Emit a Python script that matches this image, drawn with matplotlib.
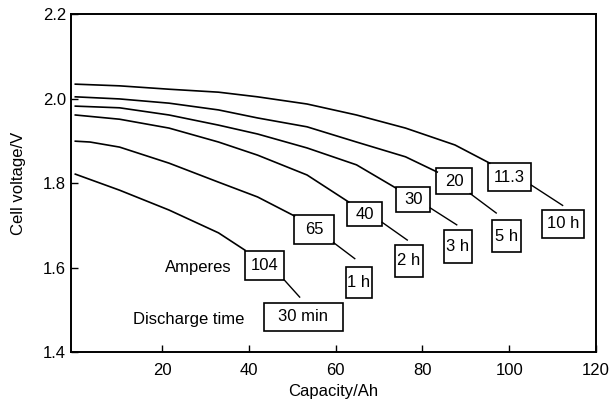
import matplotlib
matplotlib.use('Agg')
import matplotlib.pyplot as plt
from matplotlib.patches import Rectangle

plt.rcParams['font.family'] = ['Liberation Sans', 'DejaVu Sans']

# Discharge curves: capacity (Ah) vs cell voltage (V)
cap_11 = [0, 10.2, 21.6, 33.0, 42.0, 53.4, 64.8, 76.1, 87.5, 95.5]
volt_11 = [2.034, 2.030, 2.022, 2.015, 2.004, 1.987, 1.961, 1.930, 1.890, 1.847]
cap_20 = [0, 10.2, 21.6, 33.0, 42.0, 53.4, 64.8, 76.1, 83.4]
volt_20 = [2.004, 1.999, 1.989, 1.973, 1.954, 1.933, 1.897, 1.862, 1.826]
cap_30 = [0, 10.2, 21.6, 33.0, 42.0, 53.4, 64.8, 73.9]
volt_30 = [1.982, 1.978, 1.961, 1.937, 1.916, 1.883, 1.843, 1.788]
cap_40 = [0, 10.2, 21.6, 33.0, 42.0, 53.4, 63.0]
volt_40 = [1.961, 1.951, 1.930, 1.897, 1.866, 1.819, 1.755]
cap_65 = [0, 3.4, 10.2, 21.6, 33.0, 42.0, 50.5]
volt_65 = [1.899, 1.897, 1.885, 1.847, 1.802, 1.767, 1.722]
cap_104 = [0, 10.2, 21.6, 33.0, 39.1]
volt_104 = [1.821, 1.783, 1.736, 1.682, 1.641]

amperes = ['104', '65', '40', '30', '20', '11.3']
times = ['30 min', '1 h', '2 h', '3 h', '5 h', '10 h']
x_ticks = [20, 40, 60, 80, 100, 120]
y_ticks = [1.4, 1.6, 1.8, 2.0, 2.2]

# layout of the label boxes (x0, x1, y0, y1) in data units
amp_boxes = [(39.1, 48.2, 1.570, 1.639), (50.5, 59.5, 1.656, 1.724),
             (62.7, 70.7, 1.698, 1.755), (73.9, 81.8, 1.731, 1.791),
             (83.2, 91.4, 1.774, 1.835), (95.2, 105.0, 1.781, 1.847)]
time_boxes = [(43.4, 61.6, 1.450, 1.516), (62.3, 68.4, 1.528, 1.601),
              (73.6, 80.2, 1.578, 1.653), (85.0, 91.4, 1.611, 1.689),
              (96.1, 102.7, 1.637, 1.712), (107.5, 117.3, 1.670, 1.736)]
leaders = [((48.2, 1.570), (51.7, 1.530)), ((59.5, 1.659), (64.4, 1.621)),
           ((70.7, 1.707), (76.5, 1.665)), ((81.8, 1.741), (87.9, 1.701)),
           ((91.0, 1.775), (97.0, 1.729)), ((105.1, 1.795), (112.3, 1.747))]

fig = plt.figure(figsize=(6.13, 4.04), dpi=100)
ax = fig.add_axes([0.1158, 0.1287, 0.8565, 0.8366])

for c, v in [(cap_11, volt_11), (cap_20, volt_20), (cap_30, volt_30),
             (cap_40, volt_40), (cap_65, volt_65), (cap_104, volt_104)]:
    ax.plot(c, v, color='black', lw=1.2)

for (x0, x1, y0, y1), lab in zip(amp_boxes, amperes):
    ax.add_patch(Rectangle((x0, y0), x1 - x0, y1 - y0, fill=False, ec='black', lw=1.2))
    ax.text((x0 + x1) / 2, (y0 + y1) / 2, lab, ha='center', va='center', fontsize=12)
for (x0, x1, y0, y1), lab in zip(time_boxes, times):
    ax.add_patch(Rectangle((x0, y0), x1 - x0, y1 - y0, fill=False, ec='black', lw=1.2))
    ax.text((x0 + x1) / 2, (y0 + y1) / 2, lab, ha='center', va='center', fontsize=12)
for (p0, p1) in leaders:
    ax.plot([p0[0], p1[0]], [p0[1], p1[1]], color='black', lw=1.0)

ax.text(28.4, 1.601, 'Amperes', ha='center', va='center', fontsize=12)
ax.text(26.1, 1.478, 'Discharge time', ha='center', va='center', fontsize=12)

ax.set_xlim(-1, 120)
ax.set_ylim(1.4, 2.2)
ax.set_xticks(x_ticks)
ax.set_yticks(y_ticks)
ax.set_yticklabels(['%.1f' % t for t in y_ticks])
ax.tick_params(direction='in', length=5, labelsize=12, width=1)
ax.tick_params(axis='x', pad=8)
for s in ax.spines.values():
    s.set_linewidth(1.4)

ax.set_xlabel('Capacity/Ah', fontsize=12, labelpad=4)
ax.set_ylabel('Cell voltage/V', fontsize=12, labelpad=12)

plt.savefig('out.png', dpi=100)
